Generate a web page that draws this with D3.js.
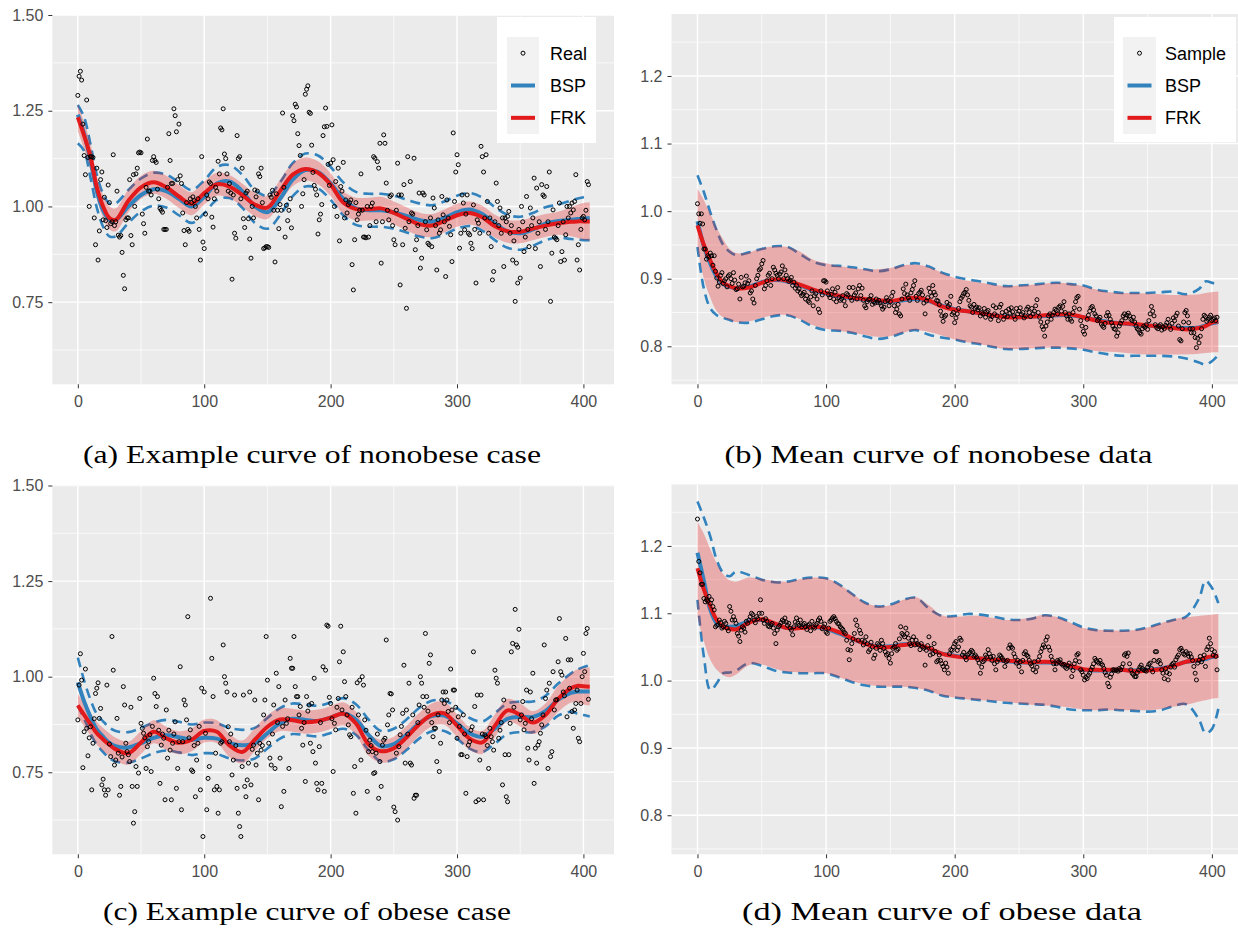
<!DOCTYPE html>
<html>
<head>
<meta charset="utf-8">
<script src="https://cdn.jsdelivr.net/npm/d3@7"></script>
<style>
body { margin: 0; background: #fff; }
svg { display: block; font-family: "Liberation Sans", Arial, sans-serif; }
</style>
</head>
<body>
<svg id="fig" width="1238" height="939"></svg>
<script>
// ---- data ----
const KNOT_X = [0,5,10,15,20,25,30,40,50,60,70,80,90,100,110,120,130,140,150,160,170,180,190,200,210,220,230,240,250,260,270,280,290,300,310,320,330,340,350,360,370,380,390,395,400,405];

const X_TICKS = [0, 100, 200, 300, 400];
const X_MINOR = [50, 150, 250, 350];
const AC_Y_TICKS = [0.75, 1.0, 1.25, 1.5];
const AC_Y_LABELS = ["0.75", "1.00", "1.25", "1.50"];
const AC_Y_MINOR = [0.625, 0.875, 1.125, 1.375];
const BD_Y_TICKS = [0.8, 0.9, 1.0, 1.1, 1.2];
const BD_Y_LABELS = ["0.8", "0.9", "1.0", "1.1", "1.2"];
const BD_Y_MINOR = [0.75, 0.85, 0.95, 1.05, 1.15, 1.25];

const LEGEND_A = ["Real", "BSP", "FRK"];
const LEGEND_B = ["Sample", "BSP", "FRK"];
const CAPTIONS = ["(a) Example curve of nonobese case", "(b) Mean curve of nonobese data",
                  "(c) Example curve of obese case", "(d) Mean curve of obese data"];

// (a) example curve, nonobese
const A_PTS = [
1.29,1.34,1.353,1.33,1.215,1.133,1.083,1.278,1.128,1.0,
1.13,1.13,1.128,0.97,0.90,1.10,0.86,0.936,1.07,1.09,
0.965,1.024,0.963,0.945,1.056,1.01,0.955,0.96,1.135,0.95,
0.96,1.04,0.925,0.92,0.924,0.88,0.82,0.785,0.965,0.97,
0.97,1.07,0.924,0.90,1.083,1.0,1.085,1.10,1.14,1.142,
1.14,0.98,0.955,0.93,1.05,1.176,1.04,1.04,1.03,1.12,
1.13,1.12,1.115,1.045,1.02,0.995,0.99,0.985,0.94,0.94,
0.94,1.05,1.19,1.12,1.06,1.06,1.255,1.237,1.195,1.07,
1.215,1.08,1.06,0.983,0.937,0.90,1.01,0.94,0.935,1.02,
1.01,1.025,1.015,1.0,0.97,1.02,0.94,0.86,1.13,0.907,
0.89,0.98,1.03,1.02,1.064,1.06,0.972,0.946,1.02,1.05,
1.04,1.118,1.085,1.205,1.2,1.255,1.137,1.125,1.085,1.04,
1.06,1.035,0.81,1.03,0.93,0.917,1.185,1.125,1.13,1.02,
1.1,0.968,0.945,1.035,1.04,0.968,0.915,0.865,1.0,0.97,
1.043,1.025,1.04,1.085,1.078,1.1,1.01,0.89,0.892,0.895,
0.895,0.893,1.03,1.024,1.042,0.99,0.855,1.033,0.99,0.942,
1.005,0.99,1.244,1.05,0.92,1.003,0.963,0.99,1.02,0.944,
1.237,1.224,1.267,1.26,1.19,1.159,1.133,1.0,1.033,1.07,
1.293,1.306,1.315,1.246,1.243,1.16,1.089,1.055,1.045,1.03,
0.928,0.965,0.98,1.005,1.185,1.208,1.257,1.209,1.11,1.055,
1.113,1.213,1.122,1.0,1.065,0.974,1.10,0.91,1.052,1.04,
1.115,0.97,1.017,0.983,1.005,1.01,1.017,0.848,0.782,0.913,
1.01,0.965,0.98,0.99,1.085,0.99,0.92,0.92,0.918,1.0,
0.92,0.95,1.0,1.009,1.13,1.126,0.96,1.117,1.10,1.165,
0.852,0.96,1.187,1.165,1.061,0.99,0.965,1.026,1.03,0.95,
0.913,0.90,0.99,1.113,1.03,0.795,1.03,0.90,1.057,0.943,
0.734,1.13,0.96,1.065,0.983,0.98,1.126,0.887,0.913,0.95,
1.035,0.839,0.865,1.035,1.03,0.96,0.939,0.904,0.90,0.97,
0.895,1.022,0.996,0.95,0.834,0.965,0.93,0.939,1.026,0.978,
0.96,0.817,1.017,0.97,0.948,0.926,0.856,1.192,1.013,1.09,
1.135,1.109,0.891,0.93,1.03,1.009,0.939,0.98,1.03,0.93,
0.926,0.904,0.89,1.004,0.94,0.80,0.965,0.956,0.93,1.157,
1.13,1.09,0.97,1.135,1.013,0.93,0.97,0.895,0.808,0.83,
0.96,1.061,1.013,0.95,0.996,0.93,0.97,0.843,0.97,0.96,
0.974,0.987,0.93,0.95,0.86,0.91,0.752,0.852,0.80,0.94,
0.813,1.0,0.96,0.882,0.92,1.026,0.94,0.895,0.996,0.95,
0.97,1.074,0.89,1.048,0.93,0.96,0.843,1.057,1.03,1.026,
0.94,1.052,0.96,1.09,0.752,0.878,0.991,0.92,0.917,0.913,
0.95,1.009,0.856,0.882,0.96,0.86,0.926,1.0,0.97,1.0,
0.983,1.009,0.991,1.013,1.083,0.86,0.90,0.834,0.94,0.97,
0.974,0.965,0.99,1.065,1.057];
const A_FRK = [1.233,1.185,1.13,1.05,1.0,0.97,0.965,1.015,1.05,1.063,1.05,1.026,1.007,1.035,1.058,1.052,1.03,1.005,0.997,1.04,1.083,1.098,1.088,1.057,1.01,0.993,0.993,0.995,0.983,0.968,0.954,0.95,0.962,0.977,0.983,0.972,0.948,0.935,0.934,0.942,0.95,0.956,0.96,0.961,0.961,0.961];
const A_BSP = [1.24,1.19,1.12,1.04,0.99,0.965,0.965,1.0,1.03,1.045,1.04,1.02,1.0,1.025,1.06,1.065,1.04,1.0,0.985,1.02,1.07,1.095,1.09,1.06,1.02,0.995,0.99,0.99,0.985,0.975,0.965,0.96,0.97,0.985,0.992,0.98,0.955,0.935,0.93,0.94,0.955,0.962,0.965,0.967,0.968,0.97];
const A_FRK_LO = [1.198,1.15,1.095,1.02,0.97,0.94,0.935,0.985,1.02,1.033,1.02,0.996,0.977,1.005,1.028,1.022,1.0,0.975,0.967,1.01,1.053,1.068,1.058,1.027,0.98,0.963,0.963,0.965,0.953,0.938,0.924,0.92,0.932,0.947,0.953,0.942,0.918,0.905,0.904,0.912,0.92,0.926,0.922,0.918,0.913,0.911];
const A_FRK_HI = [1.268,1.22,1.165,1.08,1.03,1.0,0.995,1.045,1.08,1.093,1.08,1.056,1.037,1.065,1.088,1.082,1.06,1.035,1.027,1.07,1.113,1.128,1.118,1.087,1.04,1.023,1.023,1.025,1.013,0.998,0.984,0.98,0.992,1.007,1.013,1.002,0.978,0.965,0.964,0.972,0.98,0.986,0.998,1.004,1.009,1.011];
const A_BSP_LO = [1.165,1.145,1.075,0.997,0.947,0.922,0.922,0.957,0.987,1.002,0.997,0.977,0.957,0.982,1.017,1.022,0.997,0.957,0.942,0.977,1.027,1.052,1.047,1.017,0.977,0.952,0.947,0.947,0.942,0.932,0.922,0.917,0.927,0.942,0.949,0.937,0.912,0.892,0.887,0.897,0.912,0.919,0.915,0.914,0.912,0.912];
const A_BSP_HI = [1.265,1.233,1.163,1.083,1.033,1.008,1.008,1.043,1.073,1.088,1.083,1.063,1.043,1.068,1.103,1.108,1.083,1.043,1.028,1.063,1.113,1.138,1.133,1.103,1.063,1.038,1.033,1.033,1.028,1.018,1.008,1.003,1.013,1.028,1.035,1.023,0.998,0.978,0.973,0.983,0.998,1.005,1.015,1.02,1.024,1.028];

// (b) mean curve, nonobese
const B_PTS = [
1.011,0.996,0.982,0.996,0.981,0.944,0.944,0.929,0.934,0.932,
0.938,0.934,0.92,0.934,0.911,0.901,0.889,0.895,0.905,0.909,
0.893,0.897,0.9,0.888,0.904,0.906,0.9,0.893,0.909,0.898,
0.884,0.885,0.892,0.87,0.902,0.888,0.889,0.894,0.904,0.893,
0.897,0.879,0.882,0.87,0.864,0.89,0.9,0.905,0.913,0.915,
0.922,0.927,0.885,0.89,0.897,0.905,0.908,0.89,0.9,0.917,
0.913,0.908,0.905,0.9,0.907,0.91,0.919,0.9,0.913,0.905,
0.9,0.896,0.898,0.902,0.89,0.895,0.886,0.89,0.882,0.885,
0.879,0.875,0.877,0.88,0.87,0.875,0.867,0.865,0.873,0.882,
0.86,0.875,0.878,0.87,0.855,0.85,0.882,0.876,0.897,0.897,
0.895,0.882,0.876,0.872,0.877,0.885,0.87,0.88,0.866,0.887,
0.872,0.868,0.87,0.875,0.867,0.86,0.878,0.876,0.887,0.872,
0.868,0.887,0.876,0.879,0.87,0.885,0.89,0.875,0.886,0.868,
0.86,0.857,0.866,0.869,0.87,0.875,0.862,0.866,0.864,0.87,
0.865,0.868,0.864,0.86,0.855,0.858,0.866,0.872,0.868,0.86,
0.866,0.874,0.88,0.86,0.85,0.855,0.862,0.848,0.845,0.87,
0.885,0.878,0.892,0.876,0.872,0.868,0.879,0.884,0.89,0.897,
0.874,0.868,0.878,0.88,0.883,0.876,0.864,0.848,0.867,0.872,
0.886,0.88,0.874,0.89,0.88,0.876,0.868,0.867,0.862,0.852,
0.845,0.837,0.844,0.846,0.865,0.859,0.862,0.874,0.847,0.85,
0.835,0.842,0.848,0.856,0.866,0.871,0.874,0.878,0.88,0.884,
0.876,0.868,0.86,0.858,0.85,0.862,0.856,0.858,0.854,0.857,
0.845,0.85,0.848,0.856,0.843,0.851,0.853,0.846,0.84,0.844,
0.86,0.848,0.857,0.845,0.838,0.858,0.862,0.85,0.84,0.846,
0.852,0.844,0.855,0.849,0.857,0.851,0.845,0.84,0.856,0.848,
0.852,0.857,0.847,0.85,0.842,0.845,0.855,0.858,0.85,0.844,
0.856,0.848,0.852,0.86,0.869,0.85,0.843,0.836,0.829,0.825,
0.815,0.83,0.836,0.845,0.848,0.84,0.846,0.85,0.855,0.853,
0.848,0.858,0.86,0.852,0.859,0.866,0.85,0.845,0.84,0.848,
0.84,0.837,0.85,0.857,0.866,0.872,0.874,0.855,0.838,0.83,
0.822,0.818,0.828,0.84,0.846,0.852,0.857,0.859,0.854,0.848,
0.845,0.838,0.84,0.843,0.833,0.83,0.828,0.834,0.845,0.85,
0.846,0.84,0.835,0.83,0.826,0.825,0.815,0.82,0.83,0.834,
0.838,0.845,0.848,0.842,0.846,0.849,0.845,0.84,0.838,0.843,
0.836,0.83,0.826,0.824,0.82,0.818,0.826,0.83,0.828,0.832,
0.825,0.838,0.848,0.859,0.852,0.845,0.832,0.828,0.826,0.83,
0.832,0.824,0.829,0.826,0.831,0.835,0.84,0.83,0.825,0.834,
0.842,0.838,0.845,0.849,0.83,0.81,0.808,0.826,0.836,0.85,
0.853,0.845,0.835,0.826,0.82,0.826,0.82,0.813,0.798,0.812,
0.805,0.815,0.826,0.84,0.846,0.844,0.837,0.84,0.843,0.846,
0.838,0.84,0.842,0.838,0.843];
const B_FRK = [0.979,0.95,0.927,0.907,0.894,0.889,0.886,0.887,0.894,0.899,0.897,0.891,0.884,0.879,0.875,0.872,0.87,0.868,0.867,0.87,0.872,0.868,0.859,0.854,0.852,0.849,0.846,0.843,0.843,0.844,0.846,0.847,0.847,0.843,0.838,0.835,0.834,0.833,0.831,0.829,0.827,0.825,0.827,0.83,0.835,0.837];
const B_BSP = [0.985,0.948,0.922,0.903,0.892,0.888,0.886,0.888,0.895,0.898,0.896,0.89,0.883,0.878,0.874,0.871,0.869,0.867,0.866,0.868,0.87,0.867,0.86,0.855,0.852,0.849,0.846,0.844,0.843,0.844,0.845,0.846,0.846,0.843,0.839,0.836,0.834,0.832,0.831,0.829,0.828,0.827,0.828,0.831,0.834,0.836];
const B_FRK_LO = [0.947,0.9,0.872,0.852,0.843,0.839,0.836,0.837,0.842,0.846,0.846,0.84,0.831,0.826,0.823,0.82,0.817,0.814,0.815,0.82,0.824,0.821,0.816,0.81,0.806,0.803,0.799,0.796,0.796,0.797,0.798,0.798,0.798,0.796,0.793,0.792,0.791,0.789,0.788,0.788,0.788,0.788,0.789,0.79,0.791,0.791];
const B_FRK_HI = [1.033,1.016,0.996,0.975,0.958,0.944,0.938,0.939,0.945,0.948,0.947,0.94,0.928,0.923,0.919,0.916,0.914,0.914,0.916,0.92,0.921,0.917,0.909,0.901,0.897,0.894,0.891,0.889,0.89,0.891,0.893,0.894,0.893,0.889,0.884,0.88,0.879,0.879,0.878,0.877,0.876,0.876,0.877,0.879,0.88,0.881];
const B_BSP_LO = [0.947,0.885,0.856,0.846,0.842,0.839,0.836,0.835,0.84,0.845,0.846,0.839,0.829,0.824,0.823,0.82,0.815,0.811,0.814,0.82,0.824,0.817,0.813,0.81,0.806,0.803,0.799,0.796,0.796,0.797,0.798,0.798,0.797,0.795,0.791,0.788,0.786,0.786,0.786,0.786,0.785,0.782,0.776,0.773,0.778,0.787];
const B_BSP_HI = [1.053,1.028,0.998,0.971,0.95,0.94,0.935,0.939,0.944,0.948,0.947,0.936,0.925,0.92,0.919,0.917,0.914,0.911,0.914,0.92,0.923,0.918,0.909,0.903,0.899,0.896,0.892,0.889,0.89,0.891,0.893,0.894,0.892,0.89,0.884,0.881,0.879,0.879,0.879,0.88,0.881,0.877,0.885,0.896,0.894,0.89];

// (c) example curve, obese
const C_PTS = [
0.887,0.978,1.06,0.991,0.762,0.856,1.02,0.865,0.793,0.84,
0.869,0.704,0.826,0.89,0.956,0.97,0.984,0.891,0.917,0.717,
0.732,0.704,0.69,0.978,0.704,0.824,0.791,1.105,1.017,0.769,
0.782,0.891,0.80,0.69,0.713,0.79,0.974,0.926,0.826,0.804,
0.796,0.778,0.92,0.713,0.617,0.647,0.765,0.713,0.748,0.943,
0.878,0.865,0.852,0.84,0.76,0.817,0.83,0.848,0.752,0.87,
0.996,0.956,0.922,0.948,0.86,0.721,0.821,0.85,0.839,0.678,
0.913,0.787,0.86,0.808,0.678,0.826,0.85,0.882,0.708,0.76,
0.83,1.026,0.652,0.83,0.939,0.926,0.887,1.157,0.84,0.861,
0.756,0.752,0.82,0.686,0.782,0.826,0.87,0.704,0.97,0.582,
0.96,0.852,0.652,0.734,0.765,1.205,1.048,0.948,0.704,0.8,
0.713,0.643,0.704,0.826,0.83,1.083,1.0,0.983,0.96,0.869,
0.83,0.85,0.743,0.782,0.952,0.82,0.708,0.643,0.608,0.582,
0.765,0.952,0.713,0.686,0.73,0.774,0.96,0.717,0.81,0.821,
0.939,0.769,0.8,0.678,0.826,0.808,0.82,0.9,0.939,1.105,
0.991,0.826,0.787,0.769,0.85,0.926,0.76,1.009,0.88,0.974,
0.787,0.66,0.87,0.70,0.939,0.878,0.89,0.76,1.048,1.022,
1.022,1.105,0.974,0.948,0.948,0.9,0.922,0.865,0.821,0.88,
0.726,0.948,0.91,0.926,0.826,0.93,0.804,0.996,0.774,0.721,
0.704,0.817,0.88,0.721,1.026,0.70,1.017,1.135,1.132,0.946,
0.93,0.89,0.752,0.878,0.861,0.92,0.943,1.039,1.132,0.913,
1.065,0.987,0.948,0.9,0.874,0.848,0.843,0.92,0.695,0.765,
0.643,0.984,0.9,0.991,0.782,1.0,0.978,0.887,0.86,0.70,
0.804,0.834,0.82,0.804,0.747,0.749,0.80,0.85,0.682,0.778,
0.713,0.821,0.834,0.839,1.096,0.874,0.9,0.956,0.955,0.913,
0.659,0.647,0.80,0.625,0.817,0.848,0.87,0.904,1.03,0.774,
0.913,0.85,0.983,0.774,0.769,0.9,0.682,0.69,0.69,0.88,
0.926,1.0,0.983,0.948,0.92,1.113,0.948,0.91,1.035,1.057,
0.88,0.843,0.865,0.865,0.778,0.9,0.752,0.826,0.939,0.96,
0.93,0.96,0.939,0.909,0.88,1.02,0.913,0.965,0.965,0.92,
0.839,0.895,0.87,0.796,0.796,0.9,0.85,0.695,0.791,0.821,
0.83,0.86,0.869,1.065,0.922,0.673,0.952,0.678,0.782,0.952,
0.85,0.678,0.848,0.843,0.82,0.76,0.865,0.843,0.83,0.808,
1.017,0.996,0.983,0.839,0.86,0.88,0.717,0.939,0.796,0.686,
0.673,0.796,0.878,1.065,1.087,0.92,1.176,1.083,1.077,1.124,
0.887,0.9,0.935,0.861,0.878,0.965,0.813,0.782,0.96,0.89,
1.009,0.721,0.813,0.774,0.821,0.83,0.852,0.874,0.9,1.083,
0.943,0.965,0.76,0.983,0.791,0.804,1.013,0.913,0.939,0.94,
1.039,1.152,1.013,1.004,0.96,0.95,1.1,0.895,1.044,0.97,
1.044,0.909,0.865,0.913,0.93,0.965,0.839,0.83,0.93,1.0,
1.061,1.013,1.113,1.126,0.941];
const C_FRK = [0.925,0.9,0.876,0.852,0.836,0.822,0.81,0.80,0.828,0.856,0.839,0.827,0.835,0.858,0.856,0.82,0.803,0.835,0.869,0.888,0.886,0.881,0.884,0.893,0.903,0.878,0.823,0.805,0.813,0.841,0.875,0.9,0.904,0.872,0.838,0.828,0.872,0.912,0.9,0.88,0.9,0.942,0.97,0.976,0.975,0.974];
const C_BSP = [0.985,0.935,0.895,0.862,0.843,0.827,0.818,0.815,0.826,0.84,0.847,0.842,0.835,0.84,0.838,0.826,0.821,0.826,0.852,0.878,0.89,0.887,0.884,0.893,0.904,0.888,0.848,0.818,0.824,0.848,0.878,0.897,0.898,0.878,0.852,0.843,0.865,0.89,0.895,0.895,0.91,0.94,0.958,0.961,0.961,0.961];
const C_FRK_LO = [0.895,0.87,0.846,0.822,0.806,0.792,0.78,0.77,0.798,0.826,0.809,0.797,0.805,0.828,0.826,0.79,0.773,0.805,0.839,0.858,0.856,0.851,0.854,0.863,0.873,0.848,0.793,0.775,0.783,0.811,0.845,0.87,0.874,0.842,0.808,0.798,0.842,0.882,0.87,0.85,0.87,0.908,0.932,0.933,0.927,0.924];
const C_FRK_HI = [0.955,0.93,0.906,0.882,0.866,0.852,0.84,0.83,0.858,0.886,0.869,0.857,0.865,0.888,0.886,0.85,0.833,0.865,0.899,0.918,0.916,0.911,0.914,0.923,0.933,0.908,0.853,0.835,0.843,0.871,0.905,0.93,0.934,0.902,0.868,0.858,0.902,0.942,0.93,0.91,0.93,0.976,1.008,1.019,1.023,1.024];
const C_BSP_LO = [0.925,0.89,0.852,0.822,0.803,0.787,0.778,0.775,0.786,0.80,0.807,0.802,0.795,0.80,0.798,0.786,0.781,0.786,0.812,0.838,0.85,0.847,0.844,0.853,0.864,0.848,0.808,0.778,0.784,0.808,0.838,0.857,0.858,0.838,0.812,0.803,0.825,0.85,0.855,0.855,0.87,0.898,0.908,0.904,0.9,0.896];
const C_BSP_HI = [1.05,0.99,0.94,0.902,0.883,0.867,0.858,0.855,0.866,0.88,0.887,0.882,0.875,0.88,0.878,0.866,0.861,0.866,0.892,0.918,0.93,0.927,0.924,0.933,0.944,0.928,0.888,0.858,0.864,0.888,0.918,0.937,0.938,0.918,0.892,0.883,0.905,0.93,0.935,0.935,0.95,0.982,1.008,1.018,1.025,1.03];

// (d) mean curve, obese
const D_PTS = [
1.24,1.177,1.16,1.143,1.143,1.122,1.117,1.12,1.118,1.125,
1.115,1.12,1.11,1.105,1.08,1.082,1.083,1.09,1.086,1.078,
1.08,1.088,1.085,1.078,1.074,1.11,1.103,1.09,1.095,1.09,
1.085,1.07,1.066,1.058,1.075,1.08,1.078,1.072,1.088,1.085,
1.09,1.095,1.1,1.098,1.09,1.086,1.095,1.092,1.1,1.12,
1.1,1.09,1.085,1.092,1.088,1.081,1.08,1.083,1.085,1.078,
1.07,1.055,1.075,1.08,1.082,1.086,1.09,1.088,1.093,1.087,
1.082,1.085,1.078,1.075,1.068,1.08,1.087,1.093,1.085,1.082,
1.09,1.08,1.083,1.085,1.08,1.076,1.082,1.084,1.074,1.088,
1.08,1.078,1.083,1.085,1.09,1.093,1.088,1.077,1.08,1.084,
1.072,1.07,1.078,1.088,1.09,1.093,1.095,1.092,1.088,1.085,
1.084,1.08,1.078,1.076,1.072,1.07,1.06,1.046,1.031,1.045,
1.055,1.062,1.07,1.09,1.082,1.06,1.075,1.07,1.06,1.053,
1.058,1.065,1.055,1.043,1.046,1.057,1.05,1.033,1.038,1.048,
1.055,1.053,1.045,1.06,1.055,1.048,1.043,1.038,1.04,1.033,
1.026,1.04,1.048,1.05,1.055,1.045,1.047,1.062,1.08,1.07,
1.068,1.065,1.078,1.07,1.063,1.055,1.052,1.06,1.065,1.053,
1.06,1.055,1.053,1.046,1.055,1.05,1.048,1.023,1.045,1.052,
1.065,1.038,1.048,1.04,1.055,1.043,1.028,1.03,1.038,1.03,
1.025,1.021,1.016,1.026,1.02,1.011,1.04,1.046,1.045,1.05,
1.055,1.058,1.045,1.05,1.063,1.06,1.038,1.042,1.035,1.031,
1.038,1.04,1.042,1.045,1.043,1.036,1.038,1.035,1.031,1.026,
1.011,1.02,1.028,1.03,1.038,1.035,1.046,1.04,1.035,1.03,
1.036,1.025,1.016,1.028,1.032,1.038,1.036,1.033,1.03,1.021,
1.028,1.03,1.048,1.053,1.05,1.048,1.04,1.035,1.026,1.03,
1.021,1.028,1.013,1.03,1.04,1.043,1.038,1.036,1.03,1.025,
1.022,1.016,1.028,1.013,1.02,1.03,1.036,1.043,1.048,1.053,
1.05,1.06,1.065,1.05,1.045,1.036,1.03,1.025,1.016,1.025,
1.03,1.028,1.031,1.025,1.023,1.024,1.02,1.018,1.022,1.026,
1.02,1.006,1.015,1.025,1.03,1.038,1.04,1.028,1.016,1.013,
1.008,1.001,1.005,1.003,1.008,1.011,1.016,1.02,1.025,1.033,
1.03,1.028,1.026,1.03,1.025,1.023,1.018,1.012,1.008,0.996,
0.991,1.005,1.01,1.016,1.016,1.015,1.016,1.014,1.018,1.016,
1.02,1.025,1.038,1.04,1.036,1.041,1.025,1.016,1.011,1.009,
1.006,1.006,1.012,1.016,1.02,1.023,1.018,1.016,1.015,1.014,
1.02,1.024,1.026,1.018,1.013,1.03,1.043,1.043,1.028,1.03,
1.025,1.016,1.011,1.003,1.018,1.012,1.001,1.01,1.02,1.024,
1.026,1.02,1.031,1.035,1.038,1.046,1.048,1.044,1.04,1.038,
1.043,1.04,1.036,1.04,1.035,1.03,1.021,1.011,1.001,1.026,
1.03,1.036,1.028,1.032,1.038,1.021,1.046,1.05,1.063,1.055,
1.046,1.038,1.043,1.036,1.016];
const D_FRK = [1.167,1.135,1.11,1.09,1.08,1.077,1.076,1.086,1.091,1.085,1.078,1.078,1.08,1.078,1.072,1.063,1.055,1.05,1.05,1.053,1.054,1.048,1.04,1.036,1.034,1.033,1.031,1.03,1.028,1.027,1.028,1.027,1.022,1.017,1.016,1.016,1.016,1.014,1.015,1.017,1.022,1.028,1.031,1.034,1.036,1.037];
const D_BSP = [1.19,1.148,1.105,1.085,1.08,1.08,1.081,1.088,1.09,1.084,1.078,1.079,1.08,1.077,1.07,1.062,1.055,1.051,1.051,1.054,1.054,1.047,1.04,1.037,1.035,1.033,1.031,1.029,1.027,1.027,1.027,1.026,1.021,1.016,1.015,1.015,1.016,1.015,1.016,1.018,1.022,1.028,1.03,1.032,1.035,1.037];
const D_FRK_LO = [1.095,1.058,1.031,1.016,1.008,1.005,1.009,1.023,1.024,1.018,1.013,1.012,1.012,1.011,1.005,0.999,0.995,0.992,0.991,0.991,0.989,0.985,0.978,0.975,0.972,0.971,0.97,0.969,0.966,0.964,0.963,0.962,0.96,0.957,0.956,0.956,0.956,0.956,0.956,0.958,0.961,0.964,0.969,0.971,0.973,0.974];
const D_FRK_HI = [1.236,1.218,1.195,1.174,1.158,1.149,1.147,1.153,1.151,1.148,1.147,1.151,1.153,1.152,1.143,1.13,1.116,1.111,1.112,1.12,1.124,1.112,1.097,1.095,1.096,1.096,1.093,1.09,1.091,1.094,1.098,1.094,1.086,1.078,1.076,1.075,1.074,1.075,1.079,1.085,1.091,1.094,1.096,1.097,1.098,1.099];
const D_BSP_LO = [1.12,1.035,0.986,0.996,1.011,1.012,1.015,1.026,1.022,1.015,1.012,1.011,1.011,1.011,1.005,0.998,0.993,0.991,0.991,0.991,0.989,0.985,0.978,0.975,0.973,0.971,0.969,0.967,0.966,0.965,0.964,0.961,0.957,0.956,0.956,0.957,0.956,0.955,0.954,0.956,0.962,0.965,0.942,0.922,0.928,0.958];
const D_BSP_HI = [1.266,1.242,1.214,1.179,1.16,1.155,1.162,1.157,1.15,1.146,1.147,1.151,1.153,1.152,1.143,1.129,1.116,1.11,1.113,1.12,1.123,1.107,1.096,1.096,1.099,1.098,1.095,1.091,1.09,1.092,1.097,1.094,1.087,1.079,1.075,1.074,1.074,1.075,1.079,1.085,1.09,1.095,1.122,1.148,1.138,1.115];

// ---- drawing ----
const svg = d3.select("#fig");
const RED = "#E31A1C", BLUE = "#3182BD";

function knots(arr) { return arr.map((v, i) => [KNOT_X[i], v]); }

function drawPanel(p) {
  const x = d3.scaleLinear().domain([-20.2, 424.2]).range([p.left, p.right]);
  const y = d3.scaleLinear().domain(p.yDom).range([p.bottom, p.top]);
  const g = svg.append("g");

  svg.append("clipPath").attr("id", "clip-" + p.id)
    .append("rect").attr("x", p.left).attr("y", p.top)
    .attr("width", p.right - p.left).attr("height", p.bottom - p.top);

  g.append("rect").attr("x", p.left).attr("y", p.top)
    .attr("width", p.right - p.left).attr("height", p.bottom - p.top)
    .attr("fill", "#EBEBEB");

  const grid = g.append("g").attr("clip-path", `url(#clip-${p.id})`).attr("stroke", "#fff");
  grid.selectAll(".ymin").data(p.yMinor).enter().append("line")
    .attr("x1", p.left).attr("x2", p.right).attr("y1", d => y(d)).attr("y2", d => y(d))
    .attr("stroke-width", 0.7);
  grid.selectAll(".xmin").data(X_MINOR).enter().append("line")
    .attr("y1", p.top).attr("y2", p.bottom).attr("x1", d => x(d)).attr("x2", d => x(d))
    .attr("stroke-width", 0.7);
  grid.selectAll(".ymaj").data(p.yTicks).enter().append("line")
    .attr("x1", p.left).attr("x2", p.right).attr("y1", d => y(d)).attr("y2", d => y(d))
    .attr("stroke-width", 1.4);
  grid.selectAll(".xmaj").data(X_TICKS).enter().append("line")
    .attr("y1", p.top).attr("y2", p.bottom).attr("x1", d => x(d)).attr("x2", d => x(d))
    .attr("stroke-width", 1.4);

  const body = g.append("g").attr("clip-path", `url(#clip-${p.id})`);
  const curve = d3.curveCatmullRom.alpha(0.5);
  const line = d3.line().x(d => x(d[0])).y(d => y(d[1])).curve(curve);

  [p.bspLo, p.bspHi].forEach(arr => {
    body.append("path").datum(knots(arr)).attr("d", line)
      .attr("fill", "none").attr("stroke", BLUE).attr("stroke-width", 2.6)
      .attr("stroke-dasharray", "10,6");
  });

  const area = d3.area().x(d => x(d[0])).y0(d => y(d[1])).y1(d => y(d[2])).curve(curve);
  body.append("path").datum(KNOT_X.map((k, i) => [k, p.frkLo[i], p.frkHi[i]]))
    .attr("d", area).attr("fill", RED).attr("fill-opacity", 0.3);

  body.append("path").datum(knots(p.bsp)).attr("d", line)
    .attr("fill", "none").attr("stroke", BLUE).attr("stroke-width", 4);
  body.append("path").datum(knots(p.frk)).attr("d", line)
    .attr("fill", "none").attr("stroke", RED).attr("stroke-width", 4);

  body.selectAll("circle").data(p.pts).enter().append("circle")
    .attr("cx", (d, i) => x(i)).attr("cy", d => y(d)).attr("r", 2.0)
    .attr("fill", "none").attr("stroke", "#000").attr("stroke-width", 1.0);

  // axes
  const ax = g.append("g").attr("transform", `translate(0,${p.bottom})`)
    .call(d3.axisBottom(x).tickValues(X_TICKS).tickSize(4).tickPadding(7));
  const ay = g.append("g").attr("transform", `translate(${p.left},0)`)
    .call(d3.axisLeft(y).tickValues(p.yTicks).tickFormat((d, i) => p.yLabels[i]).tickSize(4).tickPadding(5));
  [ax, ay].forEach(a => {
    a.select(".domain").remove();
    a.selectAll("line").attr("stroke", "#333").attr("stroke-width", 1);
    a.selectAll("text").attr("fill", "#4D4D4D").style("font-size", "16px")
      .style("font-family", '"Liberation Sans", Arial, sans-serif');
  });

  // caption
  svg.append("text").attr("x", p.cap.x).attr("y", p.cap.y)
    .attr("textLength", p.cap.w).attr("lengthAdjust", "spacingAndGlyphs")
    .style("font-family", '"Liberation Serif", "DejaVu Serif", serif')
    .style("font-size", "25px").attr("fill", "#000").text(p.cap.text);
}

function drawLegend(L, labels) {
  const g = svg.append("g");
  g.append("rect").attr("x", L.x).attr("y", L.y).attr("width", L.w).attr("height", L.h).attr("fill", "#fff");
  g.append("rect").attr("x", L.kx).attr("y", L.ky).attr("width", L.kw).attr("height", 97).attr("fill", "#F2F2F2");
  const rows = d3.scaleBand().domain(labels).range([L.ky, L.ky + 97]);
  const cx = L.kx + L.kw / 2;
  labels.forEach((lab, i) => {
    const cy = rows(lab) + rows.bandwidth() / 2;
    if (i === 0) {
      g.append("circle").attr("cx", cx).attr("cy", cy).attr("r", 2.0)
        .attr("fill", "none").attr("stroke", "#000").attr("stroke-width", 1.0);
    } else {
      g.append("line").attr("x1", cx - 12).attr("x2", cx + 12).attr("y1", cy).attr("y2", cy)
        .attr("stroke", i === 1 ? BLUE : RED).attr("stroke-width", 4);
    }
    g.append("text").attr("x", L.tx).attr("y", cy).attr("dy", "0.36em")
      .style("font-size", "18px").attr("fill", "#000").text(lab);
  });
}

drawPanel({id: "a", left: 52.3, right: 614, top: 15, bottom: 384.3, yDom: [0.5355, 1.5],
  yTicks: AC_Y_TICKS, yLabels: AC_Y_LABELS, yMinor: AC_Y_MINOR,
  pts: A_PTS, frk: A_FRK, bsp: A_BSP, frkLo: A_FRK_LO, frkHi: A_FRK_HI, bspLo: A_BSP_LO, bspHi: A_BSP_HI,
  cap: {x: 83, y: 463, w: 458, text: CAPTIONS[0]}});
drawPanel({id: "b", left: 671.5, right: 1243, top: 14, bottom: 384.3, yDom: [0.7438, 1.2917],
  yTicks: BD_Y_TICKS, yLabels: BD_Y_LABELS, yMinor: BD_Y_MINOR,
  pts: B_PTS, frk: B_FRK, bsp: B_BSP, frkLo: B_FRK_LO, frkHi: B_FRK_HI, bspLo: B_BSP_LO, bspHi: B_BSP_HI,
  cap: {x: 724.5, y: 463, w: 428, text: CAPTIONS[1]}});
drawPanel({id: "c", left: 52.3, right: 614, top: 485.5, bottom: 854.3, yDom: [0.5355, 1.5],
  yTicks: AC_Y_TICKS, yLabels: AC_Y_LABELS, yMinor: AC_Y_MINOR,
  pts: C_PTS, frk: C_FRK, bsp: C_BSP, frkLo: C_FRK_LO, frkHi: C_FRK_HI, bspLo: C_BSP_LO, bspHi: C_BSP_HI,
  cap: {x: 103, y: 920, w: 408, text: CAPTIONS[2]}});
drawPanel({id: "d", left: 671.5, right: 1243, top: 484.5, bottom: 854.3, yDom: [0.742, 1.2913],
  yTicks: BD_Y_TICKS, yLabels: BD_Y_LABELS, yMinor: BD_Y_MINOR,
  pts: D_PTS, frk: D_FRK, bsp: D_BSP, frkLo: D_FRK_LO, frkHi: D_FRK_HI, bspLo: D_BSP_LO, bspHi: D_BSP_HI,
  cap: {x: 742, y: 920, w: 400, text: CAPTIONS[3]}});

drawLegend({x: 497, y: 17, w: 99, h: 126, kx: 507, ky: 37, kw: 32, tx: 550}, LEGEND_A);
drawLegend({x: 1114, y: 17, w: 122, h: 125, kx: 1123, ky: 37, kw: 33, tx: 1165}, LEGEND_B);
</script>
</body>
</html>
